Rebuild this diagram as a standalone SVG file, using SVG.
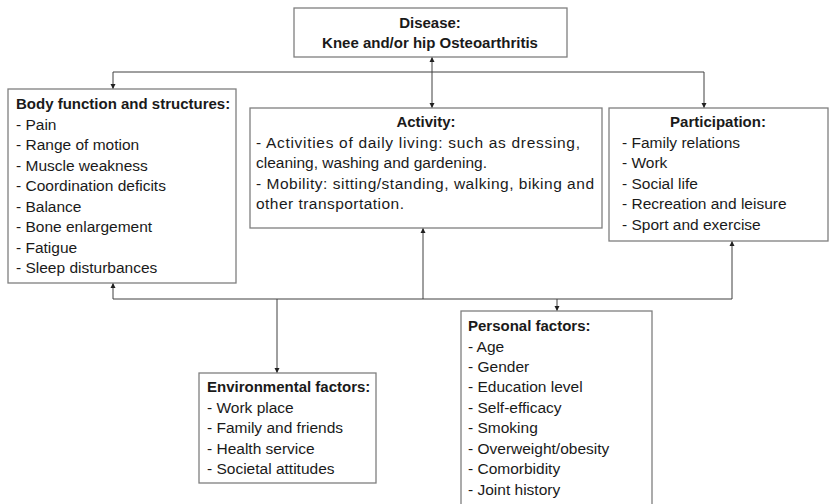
<svg xmlns="http://www.w3.org/2000/svg" width="830" height="504" viewBox="0 0 830 504">
  <style>
    .box { fill: #ffffff; stroke: #7f7f7f; stroke-width: 1.3; }
    .conn { fill: none; stroke: #404040; stroke-width: 1; }
    text { font-family: "Liberation Sans", Arial, sans-serif; font-size: 15.5px; fill: #1a1a1a; }
    .b { font-weight: bold; font-size: 15px; }
    .c { text-anchor: middle; }
  </style>
  <defs>
    <marker id="arr" viewBox="0 0 6 6" refX="6" refY="3" markerWidth="5" markerHeight="6" markerUnits="userSpaceOnUse" orient="auto-start-reverse">
      <path d="M0,0 L6,3 L0,6 z" fill="#202020"/>
    </marker>
  </defs>
  <rect width="830" height="504" fill="#ffffff"/>

  <g id="connectors">
    <path class="conn" d="M432,57 V108" marker-start="url(#arr)" marker-end="url(#arr)"/>
    <path class="conn" d="M113,89 V72 H704 V108" marker-start="url(#arr)" marker-end="url(#arr)"/>
    <path class="conn" d="M113,283 V299 H732 V241" marker-start="url(#arr)" marker-end="url(#arr)"/>
    <path class="conn" d="M423,299 V228" marker-end="url(#arr)"/>
    <path class="conn" d="M277,299 V373" marker-end="url(#arr)"/>
    <path class="conn" d="M557,299 V311" marker-end="url(#arr)"/>
  </g>

  <g id="disease">
    <rect class="box" x="294" y="8" width="273" height="49"/>
    <text class="b c" x="430" y="28">Disease:</text>
    <text class="b c" x="430" y="48">Knee and/or hip Osteoarthritis</text>
  </g>

  <g id="body">
    <rect class="box" x="8" y="89" width="228" height="194"/>
    <text class="b" x="16" y="109">Body function and structures:</text>
    <text x="16" y="129.5">- Pain</text>
    <text x="16" y="150">- Range of motion</text>
    <text x="16" y="170.5">- Muscle weakness</text>
    <text x="16" y="191">- Coordination deficits</text>
    <text x="16" y="211.5">- Balance</text>
    <text x="16" y="232">- Bone enlargement</text>
    <text x="16" y="252.5">- Fatigue</text>
    <text x="16" y="273">- Sleep disturbances</text>
  </g>

  <g id="activity">
    <rect class="box" x="250" y="108" width="352" height="120"/>
    <text class="b c" x="426" y="127">Activity:</text>
    <text x="256" y="147.5" textLength="324" lengthAdjust="spacing">- Activities of daily living: such as dressing,</text>
    <text x="256" y="168">cleaning, washing and gardening.</text>
    <text x="256" y="188.5" textLength="338" lengthAdjust="spacing">- Mobility: sitting/standing, walking, biking and</text>
    <text x="256" y="209" textLength="148" lengthAdjust="spacing">other transportation.</text>
  </g>

  <g id="participation">
    <rect class="box" x="609" y="108" width="219" height="133"/>
    <text class="b c" x="718" y="127">Participation:</text>
    <text x="622" y="147.5">- Family relations</text>
    <text x="622" y="168">- Work</text>
    <text x="622" y="188.5">- Social life</text>
    <text x="622" y="209">- Recreation and leisure</text>
    <text x="622" y="229.5">- Sport and exercise</text>
  </g>

  <g id="environmental">
    <rect class="box" x="199" y="373" width="177" height="110"/>
    <text class="b" x="207" y="392">Environmental factors:</text>
    <text x="207" y="412.5">- Work place</text>
    <text x="207" y="433">- Family and friends</text>
    <text x="207" y="453.5">- Health service</text>
    <text x="207" y="474">- Societal attitudes</text>
  </g>

  <g id="personal">
    <rect class="box" x="461" y="311" width="191" height="196"/>
    <text class="b" x="468" y="331">Personal factors:</text>
    <text x="468" y="351.5">- Age</text>
    <text x="468" y="372">- Gender</text>
    <text x="468" y="392">- Education level</text>
    <text x="468" y="413">- Self-efficacy</text>
    <text x="468" y="433">- Smoking</text>
    <text x="468" y="454">- Overweight/obesity</text>
    <text x="468" y="474">- Comorbidity</text>
    <text x="468" y="494.5">- Joint history</text>
  </g>
</svg>
